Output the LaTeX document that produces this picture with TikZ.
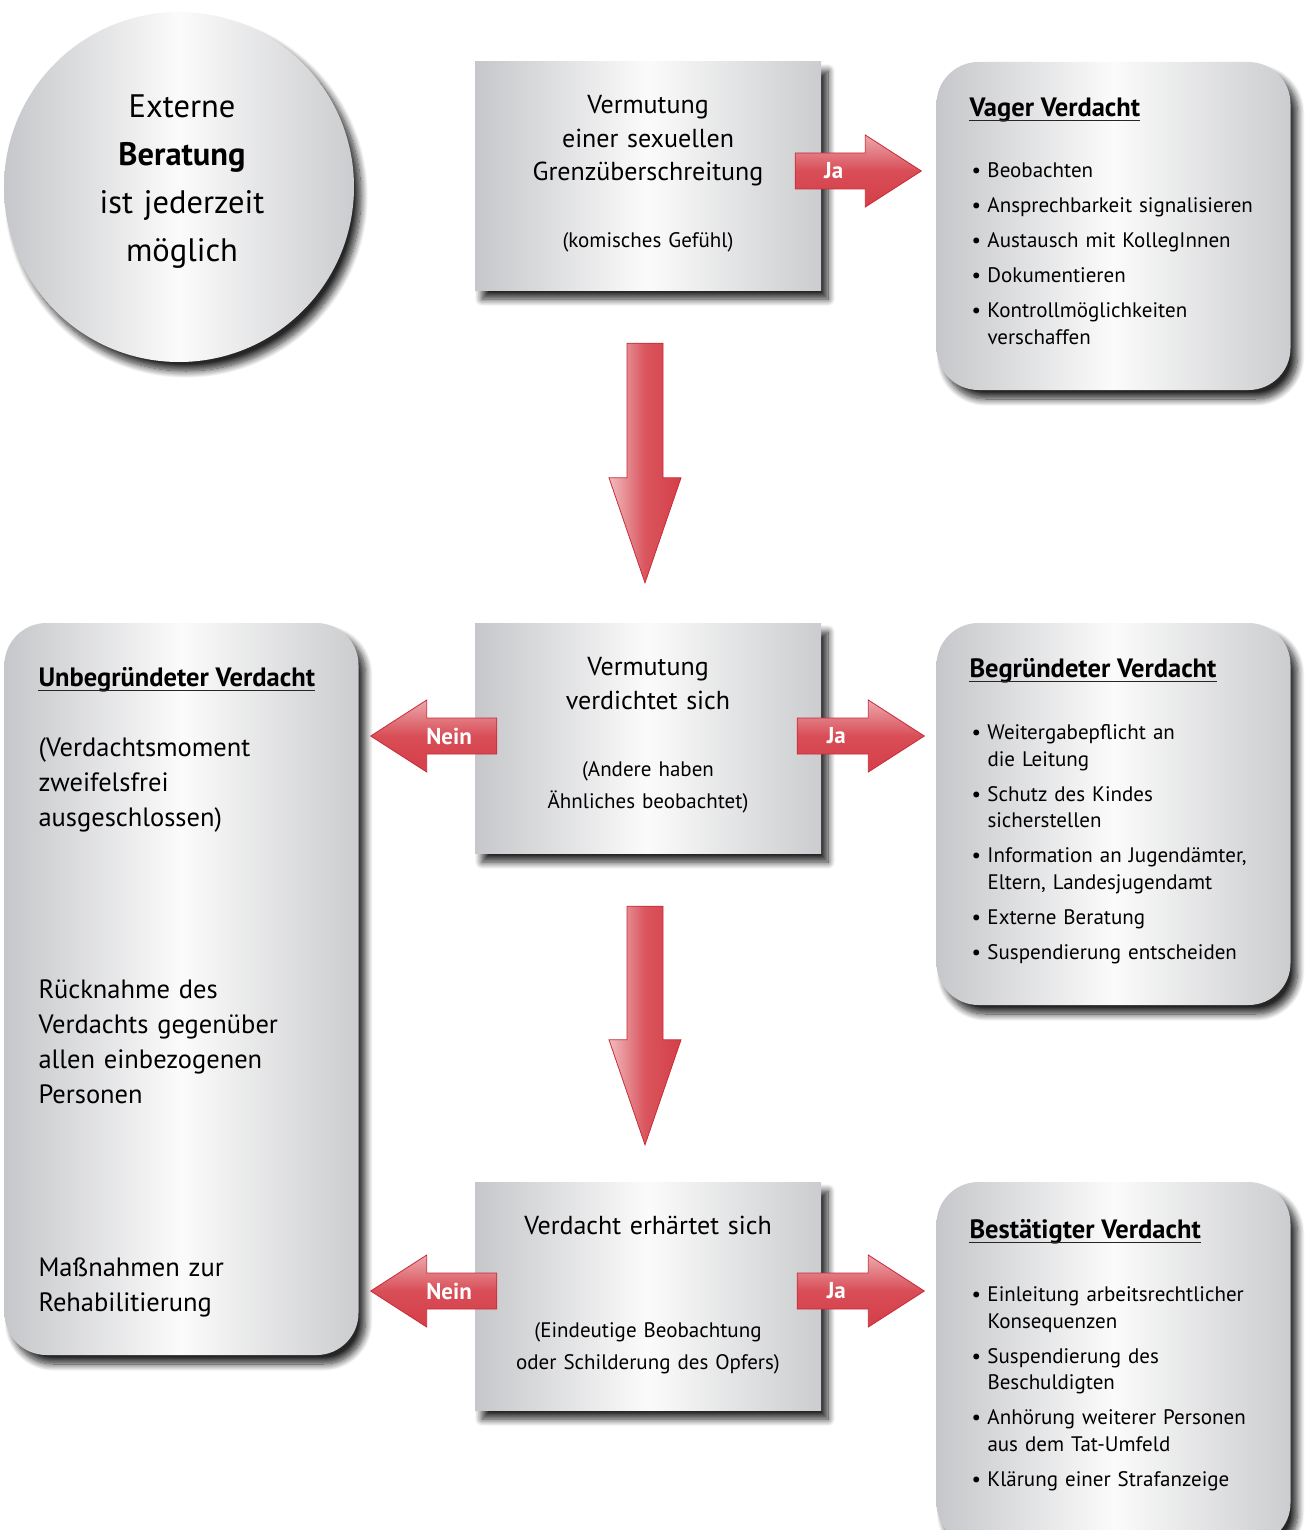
\documentclass[tikz,border=0pt]{standalone}
\usepackage{fontspec}
\setmainfont{PT Sans}
\usetikzlibrary{positioning,calc,shadows.blur}

\definecolor{panelgray}{RGB}{198,199,202}
\definecolor{panelwhite}{RGB}{251,251,251}
\definecolor{arrowred}{RGB}{213,62,72}
\definecolor{arrowdark}{RGB}{200,42,56}

\newcommand\itm{\makebox[16pt][l]{\textbullet}}
\newcommand\cnt{\hspace*{16pt}}

% fat arrow from (#1-s) to (#1-e), head length #2, fill style #3
\newcommand\fatarrow[3]{%
    \coordinate (#1-h) at ($(#1-e)!#2!(#1-s)$);
    \shadedraw[#3] ($(#1-s)!18pt!90:(#1-e)$) -- ($(#1-h)!18pt!-90:(#1-s)$) -- ($(#1-h)!36pt!-90:(#1-s)$) -- (#1-e)
        -- ($(#1-h)!36pt!90:(#1-s)$) -- ($(#1-h)!18pt!90:(#1-s)$) -- ($(#1-s)!18pt!-90:(#1-e)$) -- cycle;
}

\tikzset{
    panel/.style={inner sep=0pt, left color=panelgray, right color=panelgray!90!white, middle color=panelwhite,
            blur shadow={shadow xshift=7pt, shadow yshift=-9pt, shadow blur radius=7pt, shadow blur steps=12, shadow opacity=85}},
    stepbox/.style={panel, rectangle, minimum width=346pt},
    resultbox/.style={panel, rectangle, rounded corners=42pt, minimum width=354pt},
    maintext/.style={font=\fontsize{26}{33.5}\selectfont, text width=340pt, align=center, inner sep=0pt, anchor=base},
    notetext/.style={font=\fontsize{21}{32}\selectfont, text width=340pt, align=center, inner sep=0pt, anchor=base},
    headtext/.style={font=\bfseries\fontsize{26.5}{30}\selectfont, inner sep=0pt, anchor=base west},
    listtext/.style={font=\fontsize{21}{26.5}\selectfont, text width=360pt, align=left, inner sep=0pt, anchor=base west},
    longtext/.style={font=\fontsize{26.5}{35}\selectfont, text width=330pt, align=left, inner sep=0pt, anchor=base west},
    arrowlabel/.style={font=\bfseries\fontsize{23}{23}\selectfont, text=white, inner sep=0pt},
    hfill/.style={top color=arrowred!45!white, bottom color=arrowred, middle color=arrowred!92!white, draw=arrowdark, line width=0.8pt},
    vfill/.style={left color=arrowred!35!white, right color=arrowred, middle color=arrowred!88!white, draw=arrowdark, line width=0.8pt}
}

\begin{document}
\begin{tikzpicture}[x=1pt, y=-1pt]
    \useasboundingbox (0,0) rectangle (1304,1530);

    % Kreis
    \node[panel, circle, minimum size=350pt] (kreis) at (179,187) {};
    \node[maintext, font=\fontsize{32.5}{48}\selectfont, text width=320pt] (kreist) at (182,118)
        {Externe\\\textbf{Beratung}\\ist jederzeit\\möglich};

    % Schritte
    \node[stepbox, minimum height=228pt] (b1) at (648,176) {};
    \node[stepbox, minimum height=230pt] (b2) at (648,738) {};
    \node[stepbox, minimum height=228pt] (b3) at (648,1296) {};

    \node[maintext] (b1t) at ($(b1.north)+(0,52)$) {Vermutung\\einer sexuellen\\Grenzüberschreitung};
    \node[notetext] (b1n) at ($(b1.north)+(0,186)$) {(komisches Gefühl)};
    \node[maintext] (b2t) at ($(b2.north)+(0,53)$) {Vermutung\\verdichtet sich};
    \node[notetext] (b2n) at ($(b2.north)+(0,154)$) {(Andere haben\\Ähnliches beobachtet)};
    \node[maintext] (b3t) at ($(b3.north)+(0,53)$) {Verdacht erhärtet sich};
    \node[notetext] (b3n) at ($(b3.north)+(0,156)$) {(Eindeutige Beobachtung\\oder Schilderung des Opfers)};

    % Ergebnisse
    \node[resultbox, minimum height=328pt] (vager) at (1113.5,226) {};
    \node[resultbox, minimum height=382pt] (begr) at (1113.5,814) {};
    \node[resultbox, minimum height=363pt] (best) at (1113.5,1363.5) {};
    \node[resultbox, minimum height=732pt] (unbegr) at (181.5,989) {};

    \node[headtext] (vagerh) at ($(vager.north west)+(33,55)$) {Vager Verdacht};
    \node[listtext] (vagerl) at ($(vager.north west)+(35,116)$)
        {\itm Beobachten\\[8.5pt]\itm Ansprechbarkeit signalisieren\\[8.5pt]\itm Austausch mit KollegInnen\\[8.5pt]%
         \itm Dokumentieren\\[8.5pt]\itm Kontrollmöglichkeiten\\\cnt verschaffen};

    \node[headtext] (begrh) at ($(begr.north west)+(33,55)$) {Begründeter Verdacht};
    \node[listtext] (begrl) at ($(begr.north west)+(35,117)$)
        {\itm Weitergabepflicht an\\\cnt die Leitung\\[8.5pt]\itm Schutz des Kindes\\\cnt sicherstellen\\[8.5pt]%
         \itm Information an Jugendämter,\\\cnt Eltern, Landesjugendamt\\[8.5pt]\itm Externe Beratung\\[8.5pt]%
         \itm Suspendierung entscheiden};

    \node[headtext] (besth) at ($(best.north west)+(33,57)$) {Bestätigter Verdacht};
    \node[listtext] (bestl) at ($(best.north west)+(35,120)$)
        {\itm Einleitung arbeitsrechtlicher\\\cnt Konsequenzen\\[8.5pt]\itm Suspendierung des\\\cnt Beschuldigten\\[8.5pt]%
         \itm Anhörung weiterer Personen\\\cnt aus dem Tat-Umfeld\\[8.5pt]\itm Klärung einer Strafanzeige};

    \node[headtext] (unbegrh) at ($(unbegr.north west)+(34,64)$) {Unbegründeter Verdacht};
    \node[longtext] (unbegrl) at ($(unbegr.north west)+(34,134)$)
        {(Verdachtsmoment\\zweifelsfrei\\ausgeschlossen)\\[137pt]Rücknahme des\\Verdachts gegenüber\\allen einbezogenen\\Personen\\[138pt]%
         Maßnahmen zur\\Rehabilitierung};

    \foreach \h in {vagerh, begrh, besth, unbegrh}
        \draw[line width=1.1pt, black!85] ($(\h.base west)+(0,4)$) -- ($(\h.base east)+(0,4)$);

    % Pfeile
    \coordinate (d1-s) at ($(b1.south)+(-3,53)$);
    \coordinate (d1-e) at ($(b2.north)+(-3,-40)$);
    \coordinate (d2-s) at ($(b2.south)+(-3,53)$);
    \coordinate (d2-e) at ($(b3.north)+(-3,-37)$);
    \coordinate (ja1-s) at ($(b1.east)+(-26,-5)$);
    \coordinate (ja1-e) at ($(vager.west |- ja1-s)+(-15,0)$);
    \coordinate (ja2-s) at ($(b2.east)+(-24,-2)$);
    \coordinate (ja2-e) at ($(begr.west |- ja2-s)+(-12,0)$);
    \coordinate (ja3-s) at ($(b3.east)+(-24,-5)$);
    \coordinate (ja3-e) at ($(best.west |- ja3-s)+(-12,0)$);
    \coordinate (nein1-s) at ($(b2.west)+(22,-2)$);
    \coordinate (nein1-e) at ($(unbegr.east |- nein1-s)+(12,0)$);
    \coordinate (nein2-s) at ($(b3.west)+(22,-5)$);
    \coordinate (nein2-e) at ($(unbegr.east |- nein2-s)+(12,0)$);

    \foreach \a in {d1, d2}
        \fatarrow{\a}{105pt}{vfill};
    \foreach \a in {ja1, ja2, ja3, nein1, nein2}
        \fatarrow{\a}{56pt}{hfill};

    \foreach \a/\t/\p in {ja1/Ja/0.55, ja2/Ja/0.55, ja3/Ja/0.55, nein1/Nein/0.68, nein2/Nein/0.68}
        \node[arrowlabel] (\a-l) at ($(\a-s)!\p!(\a-h)$) {\t};
\end{tikzpicture}
\end{document}
